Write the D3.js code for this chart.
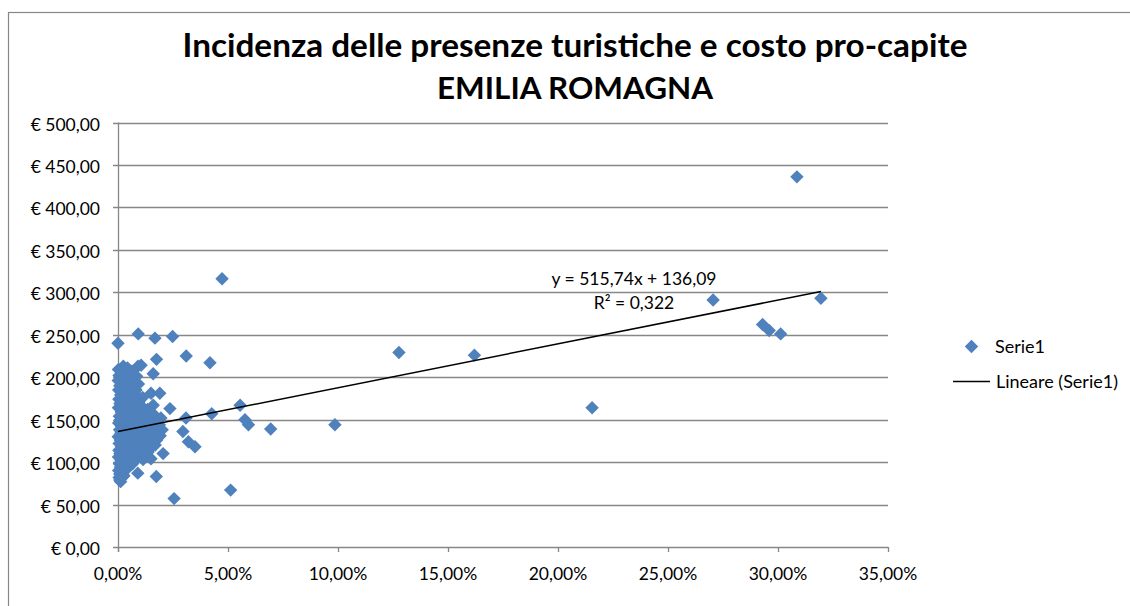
<!DOCTYPE html>
<html>
<head>
<meta charset="utf-8">
<script src="https://cdn.jsdelivr.net/npm/d3@7"></script>
<style>
  body { margin: 0; background: #fff; }
  text { font-family: Lato, "Open Sans", sans-serif; fill: #000; }
</style>
</head>
<body>
<div id="chart"></div>
<script>
// incidenza presenze turistiche (x) vs costo pro-capite in euro (y)

// comuni sparsi, lontani dal gruppo principale
const puntiSparsi = [
  [0.3086, 436], [0.0473, 316], [0.2705, 291], [0.3195, 293], [0.2930, 262],
  [0.2960, 255], [0.3012, 251], [0.1620, 226], [0.1277, 229], [0.2155, 164],
  [0.0986, 144], [0.0694, 139], [0.0593, 144], [0.0577, 150], [0.0555, 167],
  [0.0426, 157], [0.0418, 217], [0.0310, 225], [0.0309, 152], [0.0295, 136],
  [0.0320, 124], [0.0350, 118], [0.0512, 67], [0.0255, 57], [0.0248, 248],
  [0.0168, 246], [0.0092, 251], [0.0000, 240], [0.0175, 221], [0.0160, 204],
  [0.0236, 163], [0.0150, 181], [0.0190, 181], [0.0160, 167], [0.0205, 110],
  [0.0150, 104], [0.0174, 83], [0.0090, 87], [0.0008, 79], [0.0023, 83]
];

// gruppo denso vicino allo zero
const puntiColA = [
  [0.0002, 209], [0.0005, 202], [0.0001, 196], [0.0008, 190], [0.0003, 185],
  [0.0012, 179], [0.0004, 174], [0.0009, 169], [0.0002, 164], [0.0015, 159],
  [0.0006, 154], [0.0011, 150], [0.0003, 146], [0.0017, 142], [0.0007, 138],
  [0.0013, 134], [0.0001, 130], [0.0010, 126], [0.0005, 122], [0.0016, 118],
  [0.0004, 114], [0.0009, 110], [0.0002, 106], [0.0014, 102], [0.0006, 98],
  [0.0011, 94], [0.0003, 90], [0.0008, 86], [0.0005, 82], [0.0012, 77]
];
const puntiColB = [
  [0.0024, 213], [0.0031, 206], [0.0022, 199], [0.0028, 193], [0.0034, 187],
  [0.0021, 182], [0.0027, 177], [0.0033, 171], [0.0025, 166], [0.0030, 161],
  [0.0022, 156], [0.0035, 152], [0.0026, 147], [0.0029, 143], [0.0023, 139],
  [0.0032, 135], [0.0027, 131], [0.0021, 127], [0.0034, 123], [0.0025, 119],
  [0.0030, 115], [0.0022, 111], [0.0028, 107], [0.0033, 103], [0.0026, 99],
  [0.0024, 95], [0.0031, 91], [0.0020, 87], [0.0027, 84]
];
const puntiColC = [
  [0.0043, 211], [0.0049, 203], [0.0041, 196], [0.0052, 190], [0.0046, 184],
  [0.0040, 178], [0.0055, 173], [0.0044, 168], [0.0050, 163], [0.0042, 158],
  [0.0053, 154], [0.0047, 149], [0.0041, 145], [0.0054, 141], [0.0045, 137],
  [0.0049, 133], [0.0043, 129], [0.0052, 125], [0.0046, 121], [0.0040, 117],
  [0.0051, 113], [0.0044, 109], [0.0048, 105], [0.0042, 101], [0.0053, 97],
  [0.0045, 93]
];
const puntiColD = [
  [0.0064, 207], [0.0070, 198], [0.0061, 191], [0.0073, 184], [0.0066, 178],
  [0.0060, 172], [0.0071, 166], [0.0065, 161], [0.0074, 156], [0.0062, 151],
  [0.0068, 147], [0.0072, 143], [0.0063, 139], [0.0069, 135], [0.0075, 131],
  [0.0061, 127], [0.0067, 123], [0.0073, 119], [0.0064, 115], [0.0070, 111],
  [0.0062, 107], [0.0068, 103], [0.0066, 98]
];
const puntiColE = [
  [0.0091, 213], [0.0085, 201], [0.0093, 192], [0.0082, 185], [0.0088, 178],
  [0.0095, 171], [0.0084, 164], [0.0090, 158], [0.0081, 153], [0.0094, 149],
  [0.0087, 145], [0.0092, 141], [0.0083, 137], [0.0089, 133], [0.0096, 129],
  [0.0086, 125], [0.0091, 121], [0.0082, 117], [0.0088, 113], [0.0094, 109],
  [0.0085, 104]
];
const puntiColF = [
  [0.0105, 214], [0.0112, 176], [0.0103, 167], [0.0118, 160], [0.0108, 154],
  [0.0121, 149], [0.0101, 145], [0.0115, 141], [0.0109, 137], [0.0123, 133],
  [0.0104, 129], [0.0117, 125], [0.0110, 121], [0.0102, 117], [0.0120, 113],
  [0.0107, 108], [0.0114, 103]
];
const puntiColG = [
  [0.0135, 162], [0.0142, 155], [0.0131, 150], [0.0148, 146], [0.0138, 142],
  [0.0133, 138], [0.0150, 134], [0.0140, 130], [0.0145, 126], [0.0132, 122],
  [0.0147, 117], [0.0137, 112],
  [0.0163, 156], [0.0178, 150], [0.0168, 145], [0.0182, 140], [0.0171, 136],
  [0.0165, 131], [0.0176, 126], [0.0169, 120],
  [0.0195, 152], [0.0188, 144], [0.0201, 138], [0.0192, 131]
];

// linea di tendenza (dall'etichetta del grafico)
const pendenza = 515.74;
const intercetta = 136.09;
const etichettaEq = 'y = 515,74x + 136,09';
const etichettaR2 = 'R² = 0,322';

const yTicks = [0, 50, 100, 150, 200, 250, 300, 350, 400, 450, 500];
const xTicks = [0, 0.05, 0.10, 0.15, 0.20, 0.25, 0.30, 0.35];

const titolo = ['Incidenza delle presenze turistiche e costo pro-capite', 'EMILIA ROMAGNA'];
const nomeSerie = 'Serie1';
const nomeTendenza = 'Lineare (Serie1)';

const createGraph = () => {
  const width = 1130;
  const height = 606;
  const blu = '#4F81BD';
  const grigio = '#878787';
  const fs = '17.5px';

  const it = d3.formatLocale({ decimal: ',', thousands: '.', grouping: [3], currency: ['€ ', ''] });
  const fmtEuro = it.format('$.2f');
  const fmtPerc = it.format('.2%');

  const x = d3.scaleLinear().domain([0, 0.35]).range([118, 888]);
  const y = d3.scaleLinear().domain([0, 500]).range([547, 122.5]);

  const svg = d3.select('#chart').append('svg')
    .attr('width', width)
    .attr('height', height)

  svg.append('rect')
    .attr('x', 8.5).attr('y', 12.5)
    .attr('width', 1140).attr('height', 620)
    .attr('fill', '#fff')
    .attr('stroke', grigio)
    .attr('stroke-width', 1.2)

  // titolo, ridimensionato per la larghezza voluta
  const larghezze = [785, 276];
  const baseline = [57, 99];
  titolo.forEach((t, i) => {
    const el = svg.append('text')
      .attr('x', 575).attr('y', baseline[i])
      .attr('text-anchor', 'middle')
      .style('font-weight', 'bold')
      .style('font-size', '26px')
      .text(t)
    const w = el.node().getComputedTextLength();
    el.style('font-size', (26 * larghezze[i] / w) + 'px')
  })

  // griglia
  svg.append('g')
    .selectAll('line')
    .data(yTicks)
    .enter().append('line')
    .attr('x1', 113).attr('x2', x(0.35))
    .attr('y1', d => Math.round(y(d)) + 0.5)
    .attr('y2', d => Math.round(y(d)) + 0.5)
    .attr('stroke', grigio)
    .attr('stroke-width', 1.3)

  svg.append('line')
    .attr('x1', 118.5).attr('x2', 118.5)
    .attr('y1', y(500)).attr('y2', 552)
    .attr('stroke', grigio)
    .attr('stroke-width', 1.3)

  svg.append('g')
    .selectAll('line')
    .data(xTicks)
    .enter().append('line')
    .attr('x1', d => Math.round(x(d)) + 0.5)
    .attr('x2', d => Math.round(x(d)) + 0.5)
    .attr('y1', 547).attr('y2', 552)
    .attr('stroke', grigio)
    .attr('stroke-width', 1.3)

  svg.append('g')
    .selectAll('text')
    .data(yTicks)
    .enter().append('text')
    .attr('x', 100)
    .attr('y', d => y(d) + 8)
    .attr('text-anchor', 'end')
    .style('font-size', fs)
    .text(d => fmtEuro(d))

  svg.append('g')
    .selectAll('text')
    .data(xTicks)
    .enter().append('text')
    .attr('x', d => x(d))
    .attr('y', 580)
    .attr('text-anchor', 'middle')
    .style('font-size', fs)
    .text(d => fmtPerc(d))

  // punti
  const tutti = [].concat(puntiColA, puntiColB, puntiColC, puntiColD, puntiColE, puntiColF, puntiColG, puntiSparsi);
  const diamante = d3.symbol(d3.symbolSquare, 90);

  svg.append('g')
    .selectAll('path')
    .data(tutti)
    .enter().append('path')
    .attr('d', diamante)
    .attr('transform', d => `translate(${x(d[0])}, ${y(d[1])}) rotate(45)`)
    .attr('fill', blu)

  // tendenza lineare
  const xMax = d3.max(tutti, d => d[0]);
  svg.append('line')
    .attr('x1', x(0)).attr('y1', y(intercetta))
    .attr('x2', x(xMax)).attr('y2', y(intercetta + pendenza * xMax))
    .attr('stroke', '#000')
    .attr('stroke-width', 1.5)

  svg.append('text')
    .attr('x', 634).attr('y', 285)
    .attr('text-anchor', 'middle')
    .style('font-size', fs)
    .text(etichettaEq)
  svg.append('text')
    .attr('x', 634).attr('y', 309)
    .attr('text-anchor', 'middle')
    .style('font-size', fs)
    .text(etichettaR2)

  // legenda
  svg.append('path')
    .attr('d', diamante)
    .attr('transform', 'translate(971.5, 346.5) rotate(45)')
    .attr('fill', blu)
  svg.append('text')
    .attr('x', 995).attr('y', 352.5)
    .style('font-size', '18px')
    .text(nomeSerie)
  svg.append('line')
    .attr('x1', 953).attr('x2', 990)
    .attr('y1', 381.5).attr('y2', 381.5)
    .attr('stroke', '#000')
    .attr('stroke-width', 1.5)
  svg.append('text')
    .attr('x', 996).attr('y', 388)
    .style('font-size', '18px')
    .text(nomeTendenza)
}

createGraph();
</script>
</body>
</html>
